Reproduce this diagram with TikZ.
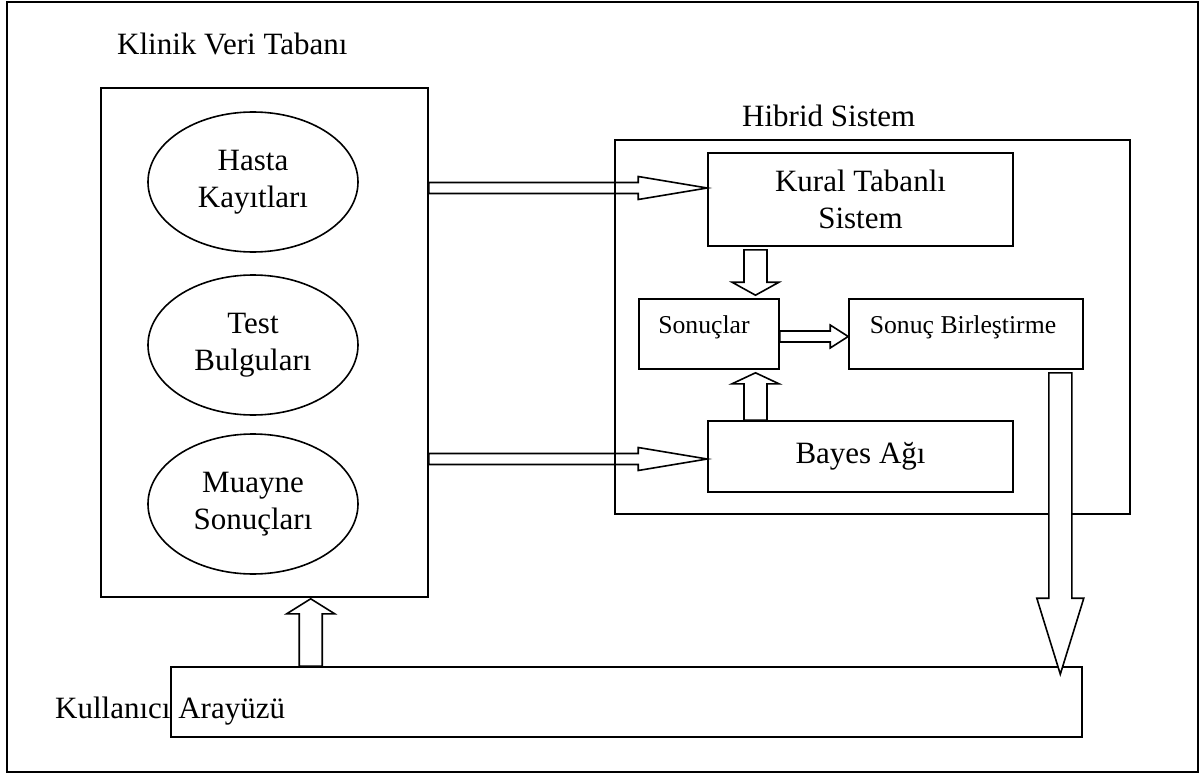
\documentclass[tikz,border=0pt]{standalone}
\usepackage{fontspec}
\setmainfont{Liberation Serif}
\usetikzlibrary{calc,shapes.geometric}

\newcommand{\diagbig}{\fontsize{31}{37}\selectfont}
\newcommand{\diagsmall}{\fontsize{25.7}{31}\selectfont}

% hollow block arrow: start, tip, shaft half-width, head half-width, head length
\newcommand{\blockarrow}[6][]{%
  \coordinate (bh) at ($(#3)!#6!(#2)$);
  \draw[blockline,#1] ($(#2)!#4!90:(#3)$) -- ($(bh)!#4!90:(#3)$) -- ($(bh)!#5!90:(#3)$) -- (#3)
    -- ($(bh)!#5!-90:(#3)$) -- ($(bh)!#4!-90:(#3)$) -- ($(#2)!#4!-90:(#3)$) -- cycle;
}

\tikzset{
  outerframe/.style={draw, line width=2pt},
  box/.style={draw, line width=1.6pt, rectangle, inner sep=0pt, align=center, font=\diagbig},
  oval/.style={draw, line width=1.6pt, ellipse, inner sep=0pt, minimum width=210pt,
    minimum height=140pt, align=center, font=\diagbig},
  lbl/.style={inner sep=0pt, font=\diagbig},
  smalllbl/.style={inner sep=0pt, font=\diagsmall},
  blockline/.style={draw, line width=1.6pt, line join=miter},
}

\begin{document}
\begin{tikzpicture}[x=1pt,y=-1pt]
\useasboundingbox (0,0) rectangle (1200,773);
\draw[outerframe] (7,2) rectangle (1198,772);

% clinical database
\node[lbl, anchor=base west] (dbtitle) at (117,55) {Klinik Veri Tabanı};
\node[box, minimum width=327pt, minimum height=509pt] (db) at (264.5,342.5) {};
\node[oval] (e1) at (253,182) {Hasta\\Kayıtları};
\node[oval] (e2) at (253,345) {Test\\Bulguları};
\node[oval] (e3) at (253,504) {Muayne\\Sonuçları};

% hybrid system
\node[lbl, anchor=base west] (hytitle) at (742,127) {Hibrid Sistem};
\node[box, minimum width=515pt, minimum height=374pt] (hybrid) at (872.5,327) {};
\node[box, minimum width=305pt, minimum height=93pt] (kural) at (860.5,199.5) {Kural Tabanlı\\Sistem};
\node[box, minimum width=140pt, minimum height=70pt] (sonuc) at (709,334) {};
\node[smalllbl, anchor=base] (sonuct) at (704,333) {Sonuçlar};
\node[box, minimum width=234pt, minimum height=70pt] (birles) at (966,334) {};
\node[smalllbl, anchor=base] (birlest) at (963,333) {Sonuç Birleştirme};
\node[box, minimum width=305pt, minimum height=71pt] (bayes) at (860.5,456.5) {Bayes Ağı};

% user interface
\node[lbl, anchor=base west] (kult) at (55,718) {Kullanıcı Arayüzü};
\node[box, minimum width=911pt, minimum height=70pt] (kul) at (626.5,702) {};

% arrows
\coordinate (a1t) at ($(kural.west)+(0,-11.5)$);
\coordinate (a1s) at (db.east |- a1t);
\blockarrow{a1s}{a1t}{5.5pt}{11.5pt}{69pt}

\coordinate (a2t) at ($(bayes.west)+(0,2.5)$);
\coordinate (a2s) at (db.east |- a2t);
\blockarrow{a2s}{a2t}{5.5pt}{11.5pt}{69pt}

\coordinate (a3s) at ($(kural.south)+(-105,3)$);
\coordinate (a3t) at ($(a3s |- sonuc.north)+(0,-3)$);
\blockarrow[fill=white]{a3s}{a3t}{11.5pt}{23.5pt}{13pt}

\coordinate (a4s) at (a3s |- bayes.north);
\coordinate (a4t) at ($(a4s |- sonuc.south)+(0,3)$);
\blockarrow[fill=white]{a4s}{a4t}{11.5pt}{23.5pt}{11pt}

\coordinate (a5s) at ($(sonuc.east)+(0,2.5)$);
\coordinate (a5t) at (birles.west |- a5s);
\blockarrow[fill=white]{a5s}{a5t}{5.5pt}{11.5pt}{18pt}

\coordinate (a6s) at ($(birles.south east)+(-23.5,3)$);
\coordinate (a6t) at ($(a6s |- kul.north)+(0,8)$);
\blockarrow[fill=white]{a6s}{a6t}{11.5pt}{23.5pt}{76pt}

\coordinate (a7s) at ($(kul.north west)+(140.5,0)$);
\coordinate (a7t) at ($(a7s |- db.south)+(0,1)$);
\blockarrow[fill=white]{a7s}{a7t}{11.5pt}{24pt}{15pt}
\end{tikzpicture}
\end{document}
